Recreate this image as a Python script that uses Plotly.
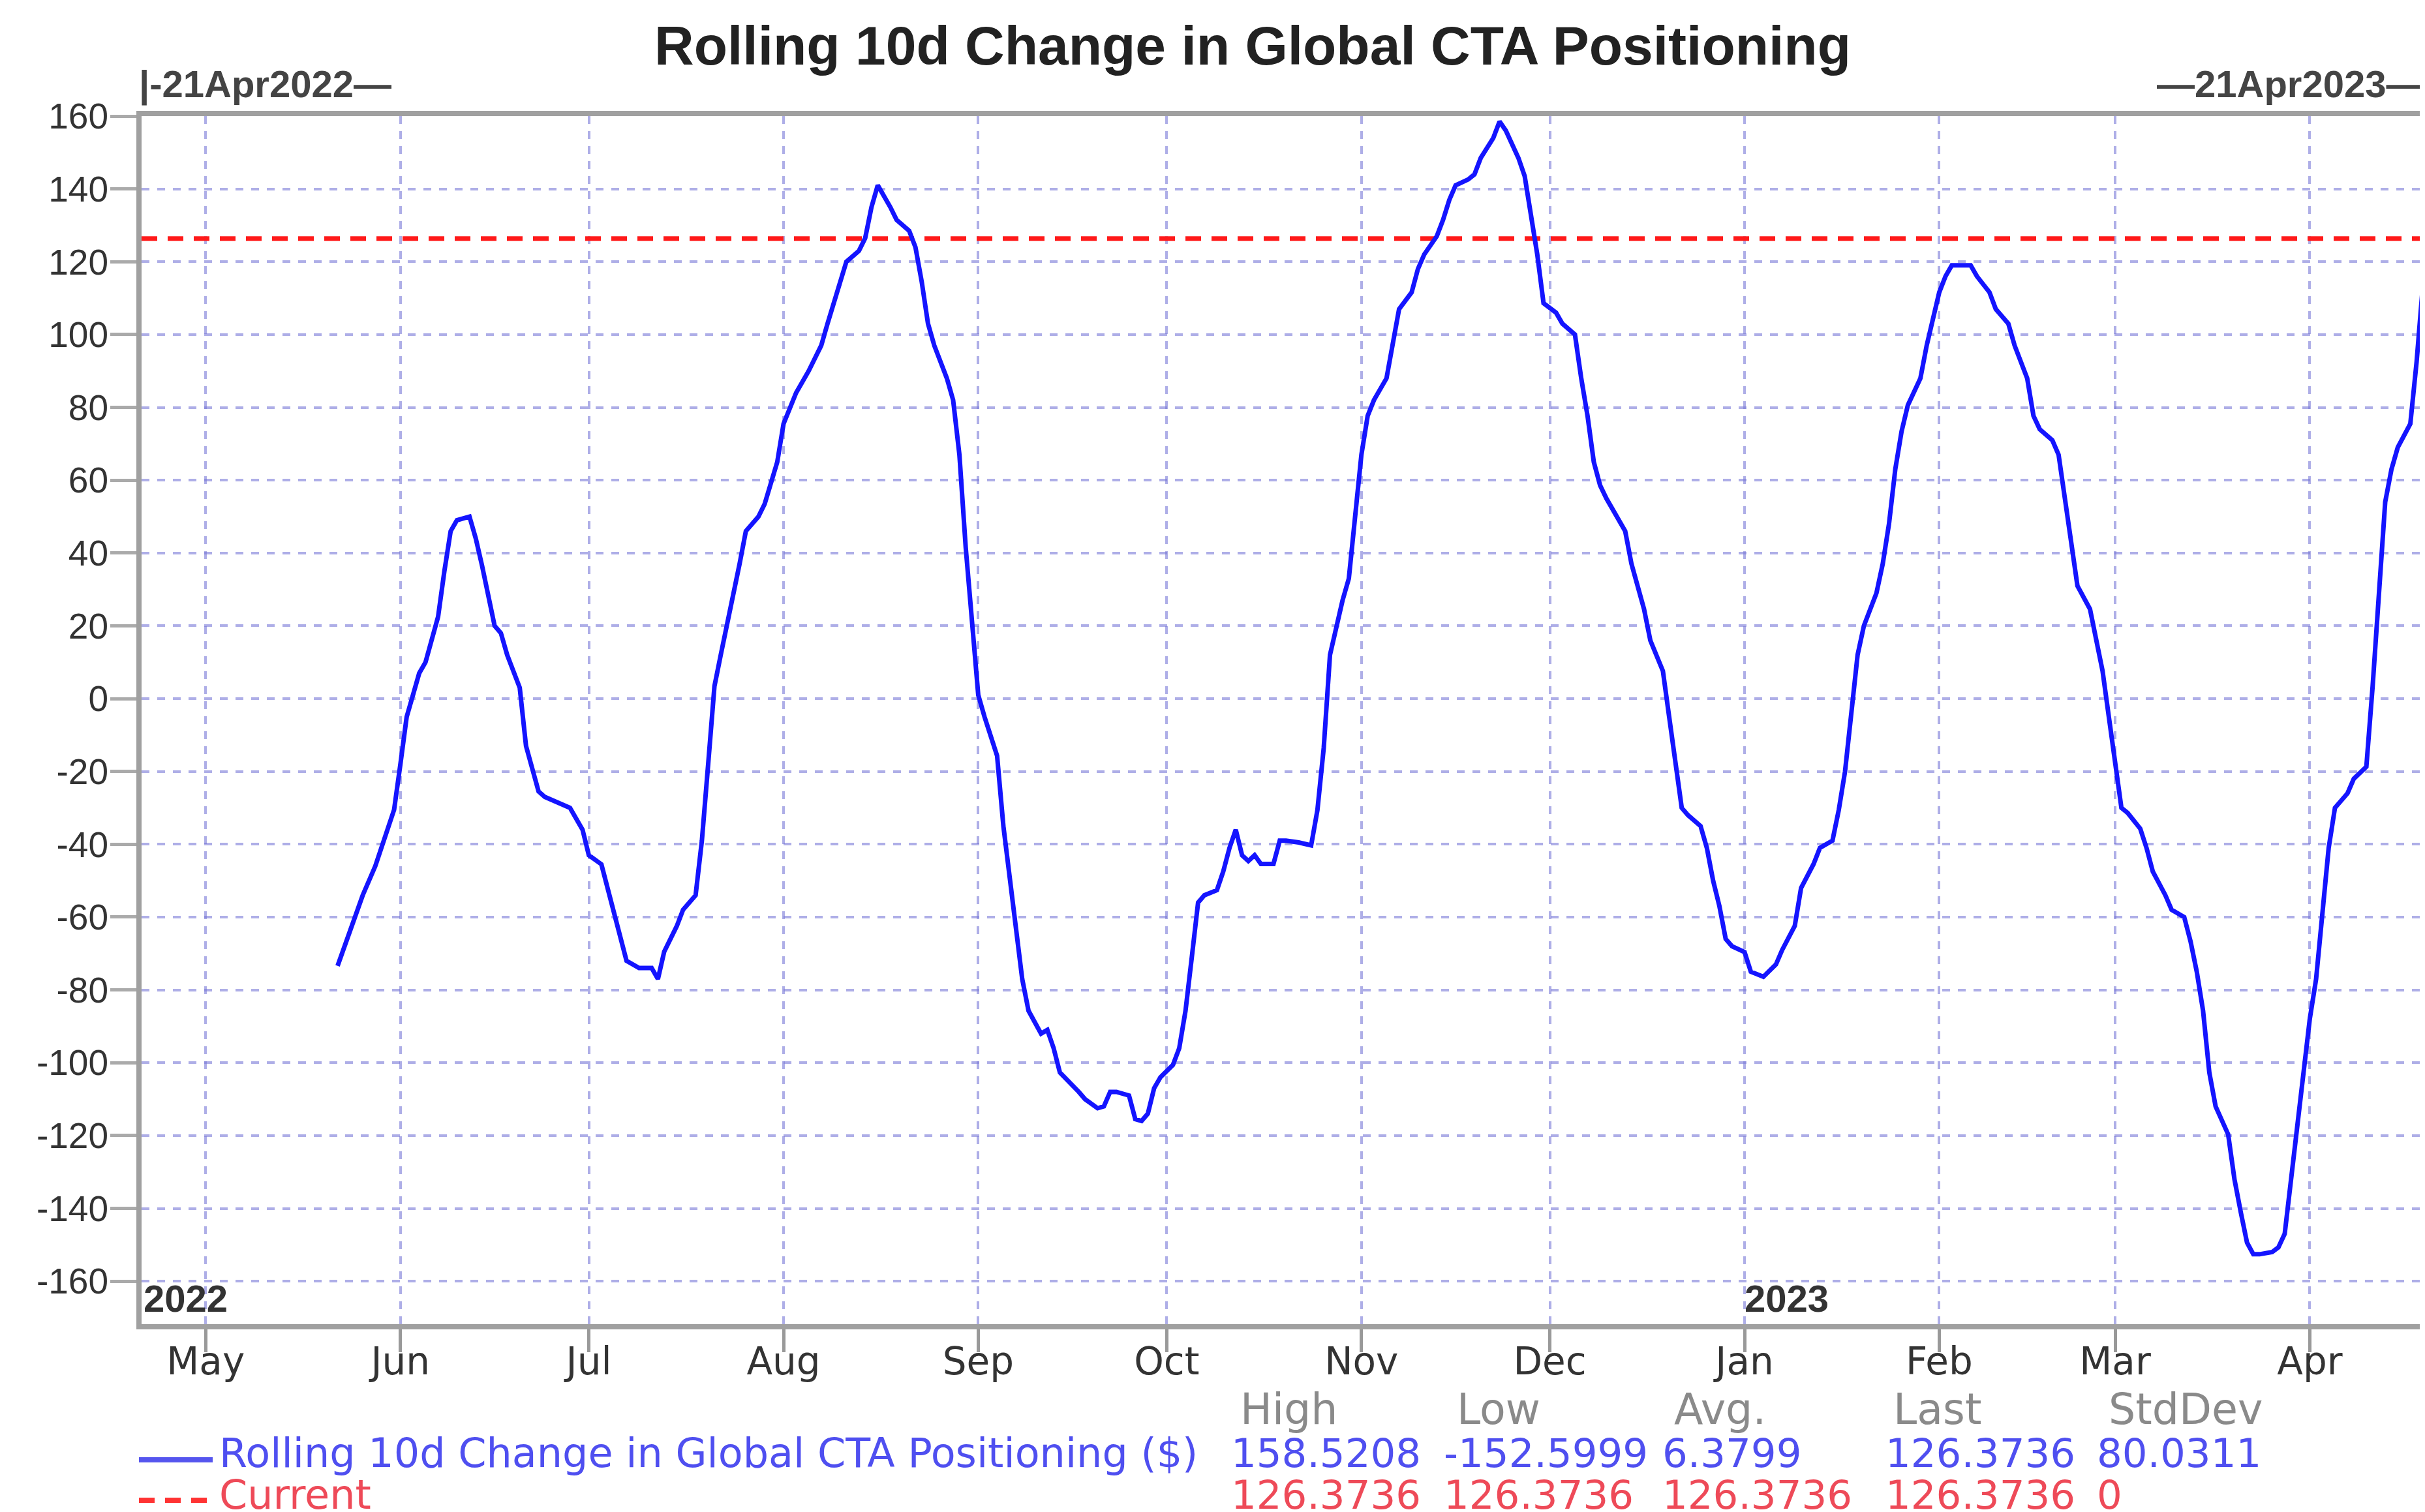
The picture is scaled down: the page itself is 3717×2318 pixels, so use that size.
import pandas as pd
import plotly.graph_objects as go

# series: days after START and the 10d change value
START = pd.Timestamp("2022-04-21")
DAY_OFFSET = [
    31, 33, 35, 37, 38, 40, 41, 42, 43, 44, 45, 47, 48, 49, 50, 52, 53, 54, 56, 57,
    58, 60, 61, 63, 64, 66, 68, 70, 71, 73, 74, 76, 77, 79, 81, 82, 83, 85, 86, 88,
    89, 90, 91, 92, 93, 95, 96, 98, 99, 101, 102, 104, 106, 108, 109, 111, 112, 114, 115, 116,
    117, 119, 120, 122, 123, 124, 125, 126, 128, 129, 130, 131, 132, 133, 134, 136, 137, 138, 139, 140,
    141, 143, 144, 145, 146, 148, 149, 150, 152, 153, 154, 155, 157, 158, 159, 160, 161, 162, 164, 165,
    166, 167, 168, 169, 171, 172, 173, 174, 175, 176, 177, 178, 180, 181, 182, 184, 186, 187, 188, 189,
    190, 191, 192, 193, 194, 195, 196, 198, 199, 200, 202, 203, 204, 206, 207, 208, 209, 211, 212, 213,
    215, 216, 217, 218, 219, 220, 221, 222, 223, 225, 226, 228, 229, 230, 231, 232, 233, 234, 236, 237,
    239, 240, 242, 243, 244, 245, 246, 248, 249, 250, 251, 252, 253, 255, 256, 258, 260, 261, 263, 264,
    266, 267, 269, 270, 271, 272, 273, 274, 276, 277, 278, 279, 280, 281, 283, 284, 285, 286, 287, 288,
    289, 291, 292, 294, 295, 297, 298, 300, 301, 302, 304, 305, 306, 307, 308, 310, 311, 312, 313, 314,
    315, 316, 318, 319, 320, 322, 323, 325, 326, 327, 328, 329, 330, 332, 333, 334, 335, 336, 337, 339,
    340, 341, 342, 343, 344, 345, 346, 347, 348, 349, 351, 352, 354, 355, 356, 357, 358, 359, 361, 362,
    363, 364,
]
VALUE = [
    -73.4, -64, -54, -46, -41, -30.5, -18, -5, 1, 7, 10, 22.5, 35, 46, 49, 50, 44, 36.5, 20, 18,
    12, 3, -13, -25.5, -27, -28.5, -30, -36, -43, -45.5, -52, -64.5, -72, -74, -74, -77, -69.5, -62.5, -58, -54,
    -39, -18, 3.4, 12, 20, 37, 46, 50, 53.5, 65, 75.5, 84, 90, 97, 103, 114, 120, 123, 126.5, 135,
    141, 135, 131.5, 128.5, 124, 114.5, 103, 97, 88, 82, 67, 41.6, 20, 1, -5, -15.7, -35, -49.7, -64.5, -77,
    -85.7, -92, -91, -96, -102.7, -106, -108, -110, -112.5, -112, -108, -108, -109, -115.5, -116, -114, -107, -104, -100.6, -96,
    -85.7, -71, -56, -54, -52.6, -47.5, -41, -36, -43, -44.6, -43, -45.4, -45.4, -39, -39, -39.5, -40.3, -30.6, -13.6, 12,
    20, 27, 33, 50, 67, 77.7, 82, 88, 97, 107, 111.6, 118, 122, 127, 131.5, 137, 141, 142.6, 144, 148.5,
    154, 158.52, 156, 152, 148.5, 143.5, 133, 122, 108.6, 106, 103, 100, 88, 77.7, 65, 58.6, 55, 52, 46, 37,
    24.6, 16, 7.6, -5, -18, -30, -32, -35, -41, -50, -57, -66, -68, -69.6, -75, -76.4, -73, -69, -62.4, -52,
    -45.4, -41, -39, -30.6, -20, -5, 12, 20, 29, 37, 48, 63, 73.4, 80.6, 88, 97, 105, 111.6, 116, 119,
    119, 119, 116, 111.6, 107, 103, 97, 88, 77.7, 74, 71, 67, 55, 44, 31, 24.6, 16, 7.6, -5, -18,
    -30, -31.4, -35.7, -41, -47.5, -54, -58, -60, -66.6, -75, -85.7, -102.7, -112, -119.7, -132, -141, -149.4, -152.6, -152.6, -152,
    -150.7, -147, -132, -115.5, -102.7, -87.9, -77, -58, -41, -30, -26, -22, -18.7, 3.4, 29, 54, 63, 69, 75.5, 92.5,
    113.7, 126.37,
]
CURRENT = 126.3736

TITLE = "Rolling 10d Change in Global CTA Positioning"
SERIES_NAME = "Rolling 10d Change in Global CTA Positioning ($)"
CURRENT_NAME = "Current"
STAT_HEADERS = ["High", "Low", "Avg.", "Last", "StdDev"]
SERIES_STATS = ["158.5208", "-152.5999", "6.3799", "126.3736", "80.0311"]
CURRENT_STATS = ["126.3736", "126.3736", "126.3736", "126.3736", "0"]
Y_TICKS = list(range(-160, 161, 20))

W, H = 3717, 2318
L, R, T, B = 209, 3717, 170, 2022  # plot area, px
FONT = "Liberation Sans, Arial, sans-serif"
WIDE = "DejaVu Sans, Verdana, sans-serif"
BLUE_TXT = "#4f4ff0"
RED_TXT = "#ee4a58"


def px(x, y):
    return (x - L) / (R - L), (B - y) / (B - T)


def label(text, x, y, size, color, bold=False, xanchor="left", family=FONT):
    ax, ay = px(x, y)
    return dict(text=f"<b>{text}</b>" if bold else text, x=ax, y=ay, xref="paper", yref="paper",
                xanchor=xanchor, yanchor="middle", showarrow=False,
                font=dict(family=family, size=size, color=color))


dates = START + pd.to_timedelta(DAY_OFFSET, unit="D")
x_start = pd.Timestamp("2022-04-20 19:00")
x_end = dates[-1] + pd.Timedelta(hours=4)

fig = go.Figure()
fig.add_trace(go.Scatter(x=[x_start, x_end], y=[CURRENT, CURRENT], mode="lines",
                         line=dict(color="#ff1a1a", width=7, dash="24px,16px"),
                         name=CURRENT_NAME))
fig.add_trace(go.Scatter(x=dates, y=VALUE, mode="lines",
                         line=dict(color="#1414ff", width=7), name=SERIES_NAME))

ann = [
    label(TITLE, 1912, 62, 84, "#222", bold=True, xanchor="center"),
    label("|-21Apr2022—", 203, 121, 58, "#444", bold=True),
    label("—21Apr2023—", 3296, 121, 58, "#444", bold=True),
    label("2022", 210, 1982, 58, "#333", bold=True),
    label("2023", 2664, 1982, 58, "#333", bold=True),
    label(SERIES_NAME, 326, 2219, 62, BLUE_TXT, family=WIDE),
    label(CURRENT_NAME, 326, 2283, 62, RED_TXT, family=WIDE),
]
head_x = [1891, 2223, 2556, 2892, 3222]
val_x = [1877, 2203, 2538, 2880, 3204]
for hx, vx, h, s, c in zip(head_x, val_x, STAT_HEADERS, SERIES_STATS, CURRENT_STATS):
    ann.append(label(h, hx, 2152, 65, "#8a8a8a", family=WIDE))
    ann.append(label(s, vx, 2219, 61, BLUE_TXT, family=WIDE))
    ann.append(label(c, vx, 2283, 61, RED_TXT, family=WIDE))

# legend samples
bx0, by0 = px(205, 2230)
bx1, _ = px(318, 2230)
_, ry = px(205, 2292)
shapes = [
    dict(type="line", xref="paper", yref="paper", x0=bx0, x1=bx1, y0=by0, y1=by0,
         line=dict(color="#5555ee", width=8)),
    dict(type="line", xref="paper", yref="paper", x0=bx0, x1=bx1, y0=ry, y1=ry,
         line=dict(color="#ff3333", width=8, dash="24px,16px")),
]

grid = "rgba(120,120,215,0.6)"
fig.update_layout(
    width=W, height=H, template="none",
    margin=dict(l=L, r=W - R, t=T, b=H - B, pad=0),
    paper_bgcolor="white", plot_bgcolor="white", showlegend=False,
    font=dict(family=FONT, color="#333"),
    annotations=ann, shapes=shapes,
    xaxis=dict(
        type="date", range=[x_start, x_end], tick0="2022-05-01", dtick="M1", tickformat="%b",
        ticks="outside", ticklen=35, tickwidth=5, tickcolor="#999", ticklabelstandoff=-36,
        showline=True, linecolor="#a0a0a0", linewidth=8, mirror=True,
        showgrid=True, gridcolor=grid, gridwidth=4, griddash="12px,11px",
        zeroline=False, automargin=False,
        tickfont=dict(family=WIDE, size=58, color="#333"),
    ),
    yaxis=dict(
        range=[-171.8, 160], tickvals=Y_TICKS, ticktext=[str(v) for v in Y_TICKS],
        ticks="outside", ticklen=40, tickwidth=5, tickcolor="#aaa", ticklabelstandoff=-8,
        showline=True, linecolor="#a0a0a0", linewidth=8,
        showgrid=True, gridcolor=grid, gridwidth=4, griddash="12px,12px",
        zeroline=False, automargin=False,
        tickfont=dict(family=FONT, size=55, color="#333"),
    ),
)

fig.write_html("out.html")
